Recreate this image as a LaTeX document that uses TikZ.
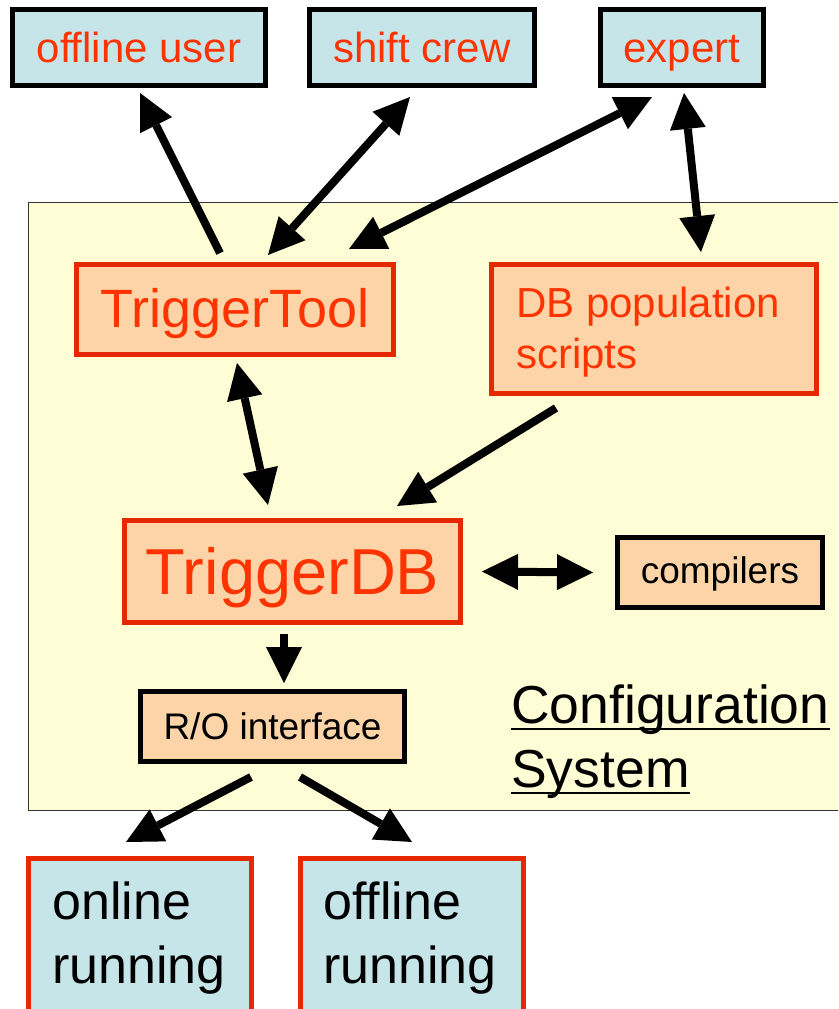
\documentclass[tikz,border=0pt]{standalone}
\usepackage{fontspec}
\setmainfont{Liberation Sans}
\usetikzlibrary{arrows.meta}
\definecolor{lblue}{HTML}{C6E5E8}
\definecolor{peach}{HTML}{FDD4A8}
\definecolor{redln}{HTML}{E62800}
\definecolor{redtx}{HTML}{FF3300}
\definecolor{ylw}{HTML}{FFFDD5}
\begin{document}
\begin{tikzpicture}[x=1pt,y=-1pt,
 actor/.style={draw=black,line width=5pt,fill=lblue,text=redtx,inner sep=0pt,text height=29pt,text depth=0pt,font=\fontsize{42}{50}\selectfont,minimum height=76pt},
 comp/.style={draw=redln,line width=5pt,fill=peach,text=redtx,inner sep=0pt},
 aux/.style={draw=black,line width=5pt,fill=peach,text=black,inner sep=0pt},
 run/.style={draw=redln,line width=5pt,fill=lblue,inner sep=0pt,minimum width=223pt,minimum height=300pt,anchor=north},
 runtext/.style={font=\fontsize{52}{64}\selectfont,align=left,anchor=north west,inner sep=0pt},
 arr/.style={line width=8pt,-{Triangle[length=36pt,width=36pt,line width=0pt]}},
 darr/.style={line width=8pt,{Triangle[length=36pt,width=36pt,line width=0pt]}-{Triangle[length=36pt,width=36pt,line width=0pt]}},
 cstext/.style={anchor=base west,inner sep=0pt,font=\fontsize{53.5}{64}\selectfont}]
\useasboundingbox (0,0) rectangle (838,1009);
\clip (0,0) rectangle (838,1009);
% configuration system container
\node[draw=black!80,line width=1pt,fill=ylw,minimum width=822pt,minimum height=608pt,inner sep=0pt] (sys) at (439,506) {};
% actors
\node[actor,minimum width=253pt] (ou) at (139,47.5) {offline user};
\node[actor,minimum width=225pt] (sc) at (422,47.5) {shift crew};
\node[actor,minimum width=163pt] (ex) at (682,47.5) {expert};
% components
\node[comp,minimum width=317pt,minimum height=90pt,font=\fontsize{54}{62}\selectfont,text height=35pt,text depth=0pt] (tt) at (235,309.5) {TriggerTool};
\node[comp,minimum width=325pt,minimum height=129pt] (dbp) at (654,329) {};
\node[text=redtx,font=\fontsize{42}{51}\selectfont,align=left,anchor=north west,inner sep=0pt] (dbpt) at (516,286.5) {DB population\\scripts};
\node[comp,minimum width=336pt,minimum height=102pt,font=\fontsize{65}{74}\selectfont,text height=45pt,text depth=0pt] (tdb) at (292.5,571.5) {TriggerDB};
\node[aux,minimum width=205pt,minimum height=70pt,font=\fontsize{37}{44}\selectfont,text height=21pt,text depth=0pt] (cmp) at (720,572.5) {compilers};
\node[aux,minimum width=264pt,minimum height=70pt,font=\fontsize{37}{44}\selectfont,text height=25pt,text depth=0pt] (ro) at (272.5,726.5) {R/O interface};
% title
\node[cstext] (cs1) at (511,723) {Configuration};
\node[cstext] (cs2) at (511,787) {System};
\draw[line width=2pt] ([yshift=-6pt]cs1.base west) -- ([yshift=-6pt]cs1.base east);
\draw[line width=2pt] ([yshift=-6pt]cs2.base west) -- ([yshift=-6pt]cs2.base east);
% running boxes
\node[run] (onl) at (140,856) {};
\node[run] (ofl) at (412,856) {};
\node[runtext] (onlt) at (52,882) {online\\running};
\node[runtext] (oflt) at (323,882) {offline\\running};
% arrows
\draw[arr] ([xshift=-15pt,yshift=9pt]tt.north) -- ([xshift=1pt,yshift=-5pt]ou.south);
\draw[darr] ([xshift=33pt,yshift=7pt]tt.north) -- ([xshift=-12pt,yshift=-9pt]sc.south);
\draw[darr] ([xshift=-47pt,yshift=13pt]tt.north east) -- ([xshift=-30pt,yshift=-9pt]ex.south);
\draw[darr] ([xshift=2pt,yshift=-5pt]ex.south) -- ([xshift=47pt,yshift=10pt]dbp.north);
\draw[darr] ([xshift=2pt,yshift=-6pt]tt.south) -- ([xshift=-24.5pt,yshift=13pt]tdb.north);
\draw[arr] ([xshift=-98pt,yshift=-12pt]dbp.south) -- ([xshift=-66pt,yshift=12pt]tdb.north east);
\draw[darr] ([xshift=19pt]tdb.east) -- ([xshift=-22pt]cmp.west);
\draw[arr] ([xshift=-8.5pt,yshift=-9pt]tdb.south) -- ([xshift=11.5pt,yshift=6pt]ro.north);
\draw[arr] ([xshift=-21.5pt,yshift=-13pt]ro.south) -- ([xshift=-14pt,yshift=14pt]onl.north);
\draw[arr] ([xshift=27.5pt,yshift=-13pt]ro.south) -- ([yshift=14pt]ofl.north);
\end{tikzpicture}
\end{document}
